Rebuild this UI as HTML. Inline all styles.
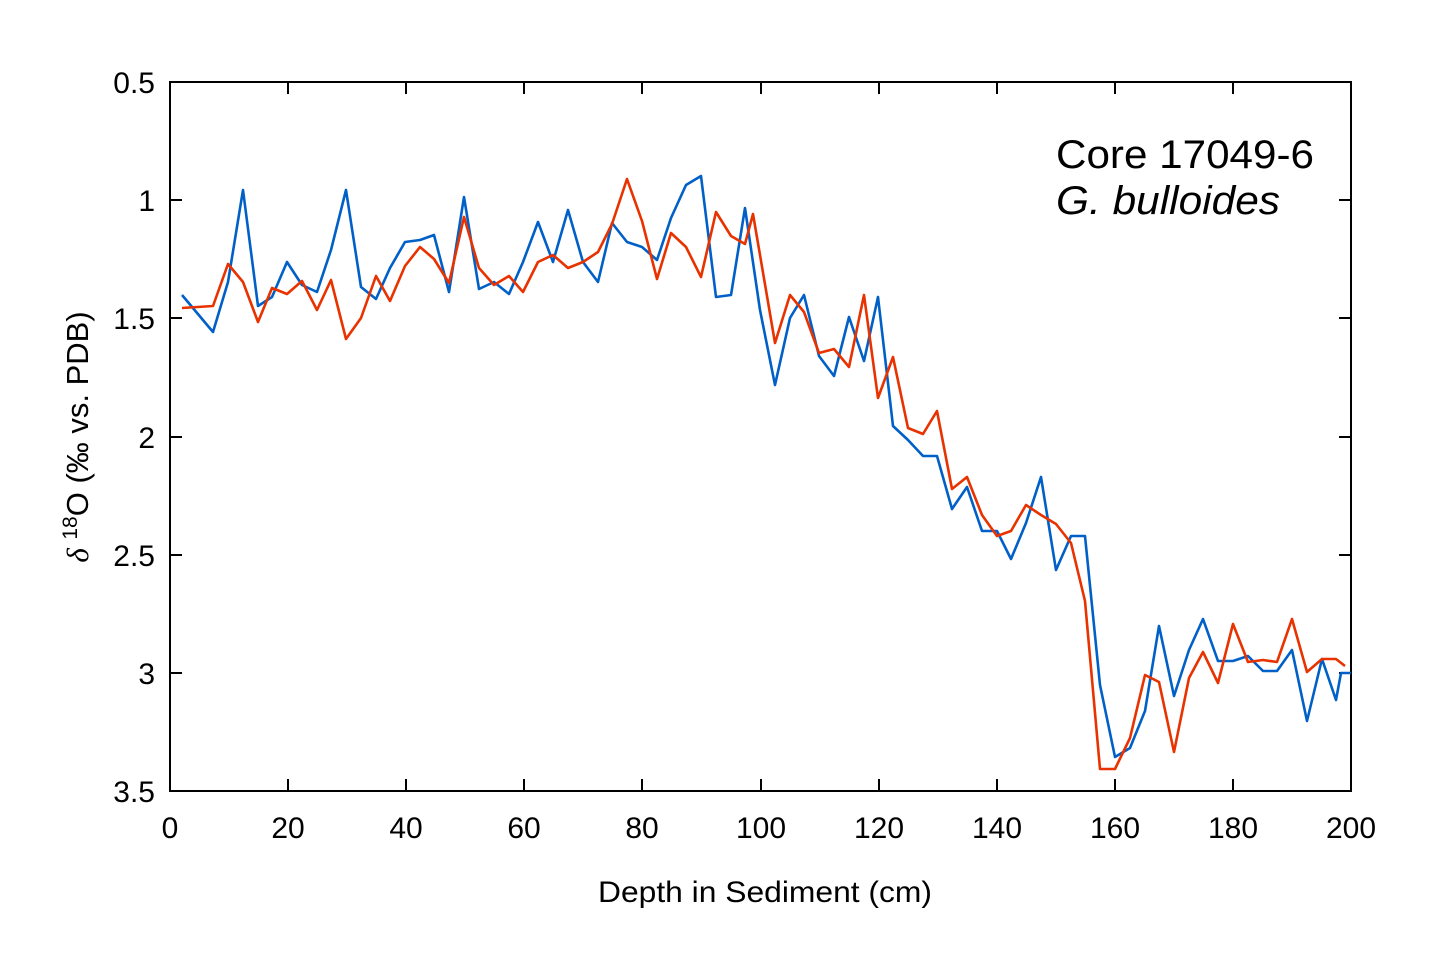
<!DOCTYPE html>
<html><head><meta charset="utf-8"><style>
html,body{margin:0;padding:0;background:#fff;}
svg{display:block;font-family:"Liberation Sans",Arial,sans-serif;}
</style></head><body>
<svg width="1435" height="957" viewBox="0 0 1435 957" xmlns="http://www.w3.org/2000/svg">
<rect width="1435" height="957" fill="#fff"/>
<g stroke="#000" stroke-width="2" fill="none">
<rect x="170" y="82" width="1181" height="709"/>
<path d="M170 200h12M170 318h12M170 437h12M170 555h12M170 673h12M1351 200h-12M1351 318h-12M1351 437h-12M1351 555h-12M1351 673h-12
M288 791v-12M406 791v-12M524 791v-12M642 791v-12M761 791v-12M879 791v-12M997 791v-12M1115 791v-12M1233 791v-12
M288 82v12M406 82v12M524 82v12M642 82v12M761 82v12M879 82v12M997 82v12M1115 82v12M1233 82v12"/>
</g>
<g font-size="30" fill="#000" text-anchor="end">
<text x="155" y="93">0.5</text><text x="155" y="211">1</text><text x="155" y="329">1.5</text><text x="155" y="448">2</text><text x="155" y="566">2.5</text><text x="155" y="684">3</text><text x="155" y="802">3.5</text>
</g>
<g font-size="30" fill="#000" text-anchor="middle">
<text x="170" y="838">0</text><text x="288" y="838">20</text><text x="406" y="838">40</text><text x="524" y="838">60</text><text x="642" y="838">80</text><text x="761" y="838">100</text><text x="879" y="838">120</text><text x="997" y="838">140</text><text x="1115" y="838">160</text><text x="1233" y="838">180</text><text x="1351" y="838">200</text>
</g>
<text x="765" y="902" font-size="30" text-anchor="middle" fill="#000" textLength="334" lengthAdjust="spacingAndGlyphs">Depth in Sediment (cm)</text>
<text transform="translate(88,437) rotate(-90)" font-size="31" text-anchor="middle" fill="#000"><tspan font-style="italic" font-family="'Liberation Serif',serif">δ</tspan> <tspan dy="-11" font-size="21">18</tspan><tspan dy="11">O (‰ vs. PDB)</tspan></text>
<text x="1056" y="168" font-size="40" fill="#000" textLength="258" lengthAdjust="spacingAndGlyphs">Core 17049-6</text>
<text x="1056" y="214" font-size="40" font-style="italic" fill="#000" textLength="224" lengthAdjust="spacingAndGlyphs">G. bulloides</text>
<polyline fill="none" stroke="#0060c8" stroke-width="2.6" stroke-linejoin="round" points="182,295 213,332 228,282 243,190 258,306 272,297 287,262 302,285 317,292 331,250 346,190 361,287 376,299 390,268 405,242 420,240 434,235 449,292 464,197 479,289 494,282 509,294 523,262 538,222 553,262 568,210 583,262 598,282 612,223 627,242 642,247 657,260 671,218 686,185 701,176 716,297 731,295 745,208 760,310 775,385 790,318 804,295 819,356 834,376 849,317 864,361 878,297 893,426 908,440 923,456 937,456 952,509 967,487 982,531 997,531 1011,559 1026,523 1041,477 1056,570 1071,536 1085,536 1100,685 1115,757 1130,748 1145,711 1159,626 1174,696 1189,650 1203,619 1218,661 1233,661 1248,656 1263,671 1277,671 1292,650 1307,721 1322,659 1336,700 1341,673 1351,673"/>
<polyline fill="none" stroke="#e83200" stroke-width="2.6" stroke-linejoin="round" points="182,308 213,306 228,264 243,282 258,322 272,288 287,294 302,281 317,310 331,280 346,339 361,318 376,276 390,301 405,266 420,247 434,259 449,283 464,217 479,268 494,285 509,276 523,292 538,262 553,255 568,268 583,262 598,252 612,224 627,179 642,221 657,279 671,233 686,247 701,277 716,212 731,236 745,244 753,214 760,255 775,343 790,295 804,312 819,353 834,349 849,367 864,295 878,398 893,357 908,428 923,434 937,411 952,489 967,477 982,515 997,536 1011,531 1026,505 1041,515 1056,524 1071,543 1085,601 1100,769 1115,769 1130,738 1145,675 1159,682 1174,752 1189,678 1203,652 1218,683 1233,624 1248,662 1263,660 1277,662 1292,619 1307,672 1322,659 1336,659 1345,666"/>
</svg>
</body></html>
